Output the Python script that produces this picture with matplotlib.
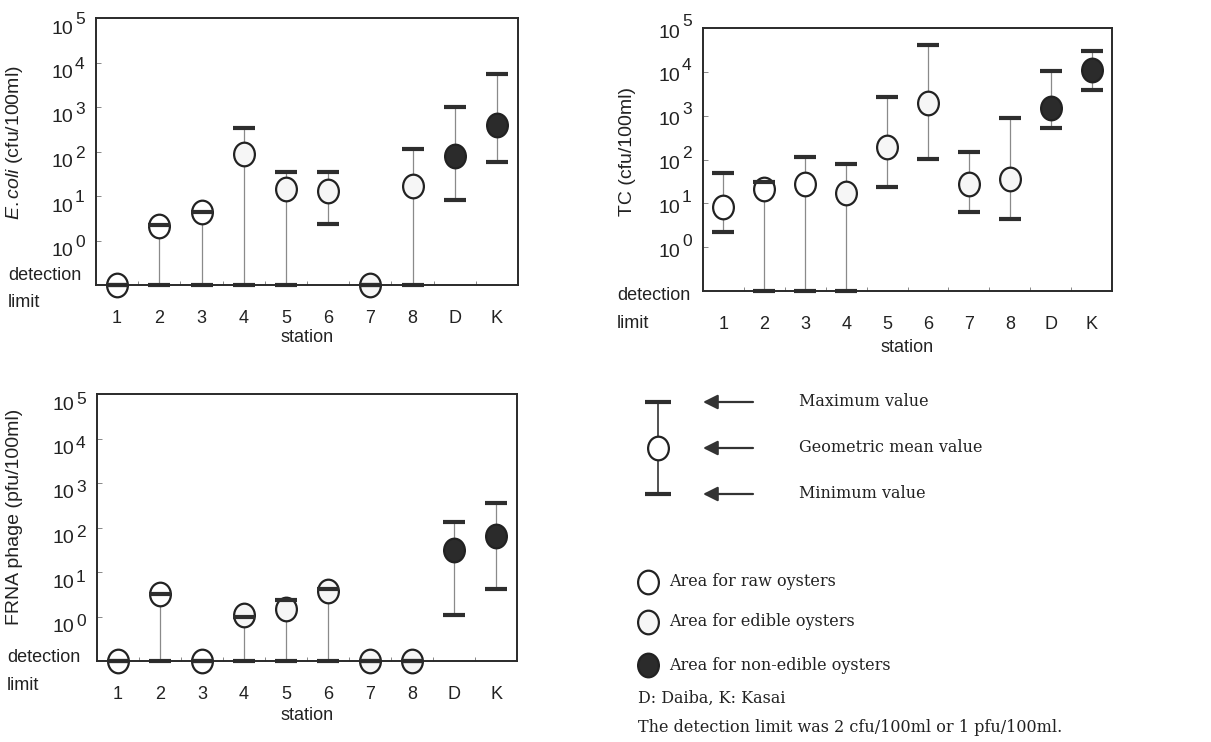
import numpy as np
import matplotlib
matplotlib.use("Agg")
import matplotlib.pyplot as plt
from matplotlib.path import Path
from matplotlib.transforms import Affine2D

plt.rcParams["font.family"] = ["Liberation Sans", "DejaVu Sans"]
plt.rcParams["mathtext.fontset"] = "custom"
plt.rcParams["mathtext.rm"] = "Liberation Sans"
plt.rcParams["mathtext.it"] = "Liberation Sans:italic"

# ---------------- data (0 = below detection limit) ----------------
stations = ["1", "2", "3", "4", "5", "6", "7", "8", "D", "K"]
area = ["raw", "raw", "raw", "edible", "edible", "edible", "edible", "edible",
        "nonedible", "nonedible"]

ecoli_mean = [0, 2.1, 4.3, 88, 14, 13, 0, 17, 80, 390]
ecoli_max = [0, 2.2, 4.3, 330, 35, 35, 0, 112, 1000, 5600]
ecoli_min = [0, 0, 0, 0, 0, 2.3, 0, 0, 8, 58]

tc_mean = [8.4, 21, 27, 17, 195, 1980, 27, 35, 1520, 11300]
tc_max = [50, 30, 113, 78, 2650, 40500, 145, 900, 10400, 30500]
tc_min = [2.2, 0, 0, 0, 24, 104, 6.5, 4.4, 525, 3800]

frna_mean = [0, 3.2, 0, 1.1, 1.5, 3.8, 0, 0, 31, 65]
frna_max = [0, 3.2, 0, 1.0, 2.3, 4.1, 0, 0, 132, 355]
frna_min = [0, 0, 0, 0, 0, 0, 0, 0, 1.07, 4.1]

decades = [0, 1, 2, 3, 4, 5]
DL_POS = 0.1  # plotting position of "detection limit"

legend_items = ["Maximum value", "Geometric mean value", "Minimum value"]
area_labels = ["Area for raw oysters", "Area for edible oysters",
               "Area for non-edible oysters"]
note1 = "D: Daiba, K: Kasai"
note2 = "The detection limit was 2 cfu/100ml or 1 pfu/100ml."

# ---------------- styles ----------------
W, H = 1211, 742
PT = 0.72  # points per pixel at dpi 100
fills = {"raw": "white", "edible": "#f6f6f6", "nonedible": "#2b2b2b"}
EDGE = "#222222"
CAPC = "#2e2e2e"
ellipse = Path.unit_circle().transformed(Affine2D().scale(0.88, 1.0))
SERIF = ["DejaVu Serif"]

fig = plt.figure(figsize=(W / 100, H / 100), dpi=100)


def fx(px):
    return px / W


def fy(py):
    return 1 - py / H


def make_axes(l, t, r, b):
    return fig.add_axes([fx(l), fy(b), fx(r - l), (b - t) / H])


def panel(ax, mean, mx, mn, ylabel, yl_xy, det_xy, station_off, dy10, dyexp):
    x = np.arange(len(stations))
    m = np.array([v if v > 0 else DL_POS for v in mean], float)
    hi = np.array([v if v > 0 else DL_POS for v in mx], float)
    lo = np.array([v if v > 0 else DL_POS for v in mn], float)
    ax.set_yscale("log")
    ax.set_ylim(DL_POS, 10 ** decades[-1])
    ax.set_xlim(-0.5, len(stations) - 0.5)

    ax.vlines(x, lo, hi, color="#8a8a8a", lw=0.9, zorder=2)
    for a in ["raw", "edible", "nonedible"]:
        idx = [i for i, s in enumerate(area) if s == a]
        ax.plot(x[idx], m[idx], ls="none", marker=ellipse, ms=17,
                mfc=fills[a], mec=EDGE, mew=1.6, zorder=3, clip_on=False)
    for arr in (hi, lo):
        ax.plot(x, arr, ls="none", marker="_", ms=16.5, mew=3.0,
                color=CAPC, zorder=4, clip_on=False)

    for s in ax.spines.values():
        s.set_linewidth(1.4)
        s.set_color("#2a2a2a")
        s.set_zorder(5)

    ax.set_xticks(x)
    ax.set_xticklabels(stations)
    ax.set_xticks(x[:-1] + 0.5, minor=True)
    ax.tick_params(axis="x", which="major", length=0, pad=18, labelsize=13,
                   labelcolor="#222")
    ax.tick_params(axis="x", which="minor", direction="in", length=3,
                   width=0.7, color="#888")
    ax.set_yticks([10.0 ** k for k in decades[:-1]])
    ax.set_yticks([], minor=True)
    ax.tick_params(axis="y", which="major", direction="in", length=3.5,
                   width=0.7, color="#888", labelleft=False)

    ytr = ax.get_yaxis_transform()
    for k in decades:
        ax.annotate("10", xy=(0, 10.0 ** k), xycoords=ytr,
                    xytext=(-23 * PT, -dy10 * PT), textcoords="offset points",
                    ha="right", va="center", fontsize=14, color="#222")
        ax.annotate(str(k), xy=(0, 10.0 ** k), xycoords=ytr,
                    xytext=(-21 * PT, -dyexp * PT), textcoords="offset points",
                    ha="left", va="center", fontsize=12.5, color="#222")

    fig.text(fx(yl_xy[0]), fy(yl_xy[1]), ylabel, rotation=90, ha="center",
             va="center", fontsize=14, color="#222")
    fig.text(fx(det_xy[0]), fy(det_xy[1]), "detection", ha="left",
             va="center", fontsize=13, color="#222")
    fig.text(fx(det_xy[0]), fy(det_xy[1] + 28), "limit", ha="left",
             va="center", fontsize=13, color="#222")
    ax.annotate("station", xy=(0.5, 0), xycoords="axes fraction",
                xytext=(0, -station_off * PT), textcoords="offset points",
                ha="center", va="center", fontsize=13, color="#222")


ax1 = make_axes(96, 18, 518, 285)
panel(ax1, ecoli_mean, ecoli_max, ecoli_min, r"$\mathit{E.coli}$ (cfu/100ml)",
      (15, 143), (8, 275), 53, 11, 2)

ax2 = make_axes(703, 28, 1112, 291)
panel(ax2, tc_mean, tc_max, tc_min, "TC (cfu/100ml)",
      (627, 152), (617, 295), 57, 5, -6)

ax3 = make_axes(97, 394, 517, 661)
panel(ax3, frna_mean, frna_max, frna_min, "FRNA phage (pfu/100ml)",
      (15, 517), (7, 657), 54, 11, 5)

# ---------------- legend (drawn in pixel space) ----------------
leg = fig.add_axes([0, 0, 1, 1], zorder=-1)
leg.set_xlim(0, W)
leg.set_ylim(H, 0)
leg.axis("off")

ix = 658
ly = [402, 448, 494]
leg.plot([ix, ix], [ly[0], ly[2]], color="#333", lw=1.2, zorder=1)
leg.plot([ix, ix], [ly[0], ly[2]], ls="none", marker="_", ms=26 * PT,
         mew=3.0, color=CAPC, zorder=3)
leg.plot([ix], [ly[1]], ls="none", marker=ellipse, ms=17, mfc="white",
         mec=EDGE, mew=1.6, zorder=2)
for yy, lab in zip(ly, legend_items):
    leg.annotate("", xy=(703, yy), xytext=(753, yy),
                 arrowprops=dict(arrowstyle="-|>", color="#333", lw=1.6,
                                 mutation_scale=22, shrinkA=0, shrinkB=0))
    leg.text(799, yy, lab, ha="left", va="center", fontsize=11.5,
             family=SERIF, color="#222")

cy = [582, 622, 665]
for yy, a, lab in zip(cy, ["raw", "edible", "nonedible"], area_labels):
    leg.plot([648], [yy], ls="none", marker=ellipse, ms=17, mfc=fills[a],
             mec=EDGE, mew=1.6)
    leg.text(669, yy, lab, ha="left", va="center", fontsize=11.5,
             family=SERIF, color="#222")
leg.text(638, 698, note1, ha="left", va="center", fontsize=11.5,
         family=SERIF, color="#222")
leg.text(638, 728, note2, ha="left", va="center", fontsize=11.5,
         family=SERIF, color="#222")

fig.savefig("out.png", dpi=100)
